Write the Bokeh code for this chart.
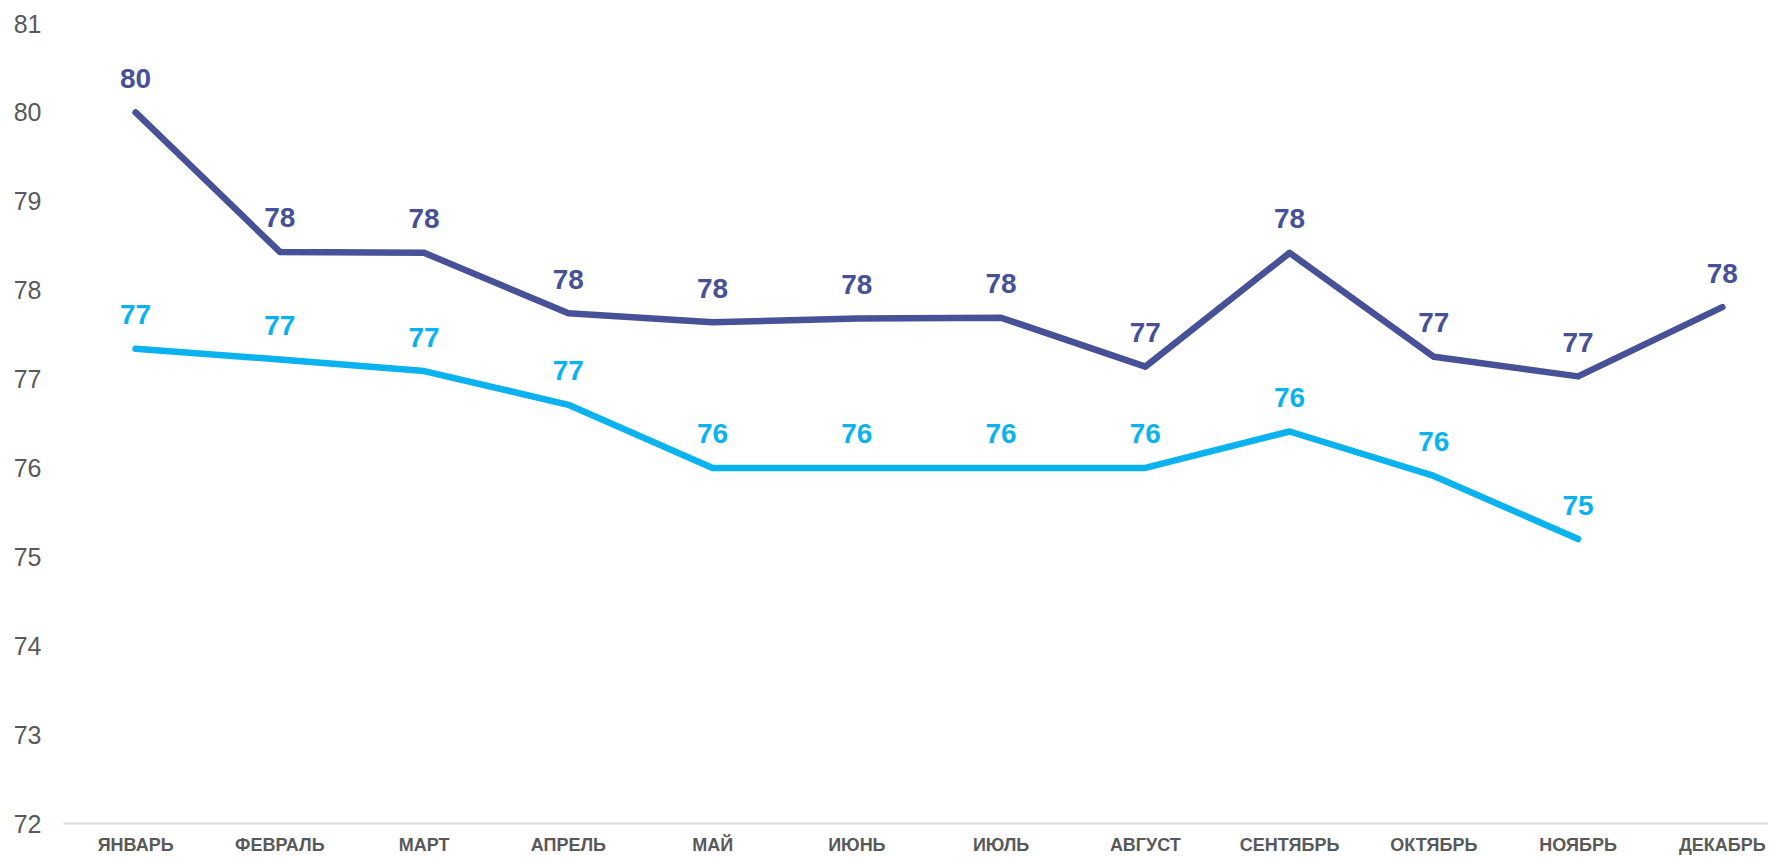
from bokeh.plotting import figure
from bokeh.models import Range1d, FixedTicker, ColumnDataSource
from bokeh.core.properties import value
from bokeh.embed import file_html
from bokeh.resources import INLINE

months = ["ЯНВАРЬ", "ФЕВРАЛЬ", "МАРТ", "АПРЕЛЬ", "МАЙ", "ИЮНЬ", "ИЮЛЬ",
          "АВГУСТ", "СЕНТЯБРЬ", "ОКТЯБРЬ", "НОЯБРЬ", "ДЕКАБРЬ"]
dark_values = [80.0, 78.43, 78.42, 77.74, 77.64, 77.68, 77.69, 77.14, 78.42, 77.25, 77.03, 77.81]
light_values = [77.34, 77.22, 77.09, 76.71, 76.0, 76.0, 76.0, 76.0, 76.41, 75.91, 75.20]
y_ticks = [72, 73, 74, 75, 76, 77, 78, 79, 80, 81]

DARK = "#465197"
LIGHT = "#0AB3EF"
FONT = "Liberation Sans"

p = figure(width=1768, height=857, output_backend="svg", toolbar_location=None,
           x_range=Range1d(-0.5, 11.32), y_range=Range1d(72, 81),
           min_border_left=63, min_border_right=0, min_border_top=23, min_border_bottom=0)
p.outline_line_color = None
p.xgrid.visible = False
p.ygrid.visible = False
p.background_fill_color = "white"
p.border_fill_color = "white"

# y axis
p.yaxis.ticker = FixedTicker(ticks=y_ticks)
p.yaxis.axis_line_color = None
p.yaxis.major_tick_line_color = None
p.yaxis.minor_tick_line_color = None
p.yaxis.major_tick_out = 0
p.yaxis.major_tick_in = 0
p.yaxis.major_label_standoff = 22
p.yaxis.major_label_text_font = FONT
p.yaxis.major_label_text_font_size = "25px"
p.yaxis.major_label_text_color = "#595959"

# x axis
xs = list(range(len(months)))
p.xaxis.ticker = FixedTicker(ticks=xs)
p.xaxis.major_label_overrides = {i: m for i, m in enumerate(months)}
p.xaxis.axis_line_color = "#D9D9D9"
p.xaxis.axis_line_width = 2
p.xaxis.major_tick_line_color = None
p.xaxis.minor_tick_line_color = None
p.xaxis.major_tick_out = 0
p.xaxis.major_tick_in = 0
p.xaxis.major_label_standoff = 11
p.xaxis.major_label_text_font = FONT
p.xaxis.major_label_text_font_style = "bold"
p.xaxis.major_label_text_font_size = "18px"
p.xaxis.major_label_text_color = "#595959"

dark_src = ColumnDataSource(dict(x=xs, y=dark_values,
                                 t=[f"{v:.0f}" for v in dark_values]))
light_x = list(range(len(light_values)))
light_src = ColumnDataSource(dict(x=light_x, y=light_values,
                                  t=[f"{v:.0f}" for v in light_values]))

p.line("x", "y", source=light_src, line_color=LIGHT, line_width=6.5,
       line_cap="round", line_join="round")
p.line("x", "y", source=dark_src, line_color=DARK, line_width=6.5,
       line_cap="round", line_join="round")

for src, col in ((dark_src, DARK), (light_src, LIGHT)):
    p.text("x", "y", text="t", source=src, text_color=col,
           text_font=value(FONT), text_font_style="bold", text_font_size="28px",
           text_align="center", text_baseline="alphabetic", y_offset=-34)

open("out.html", "w").write(file_html(p, INLINE))
